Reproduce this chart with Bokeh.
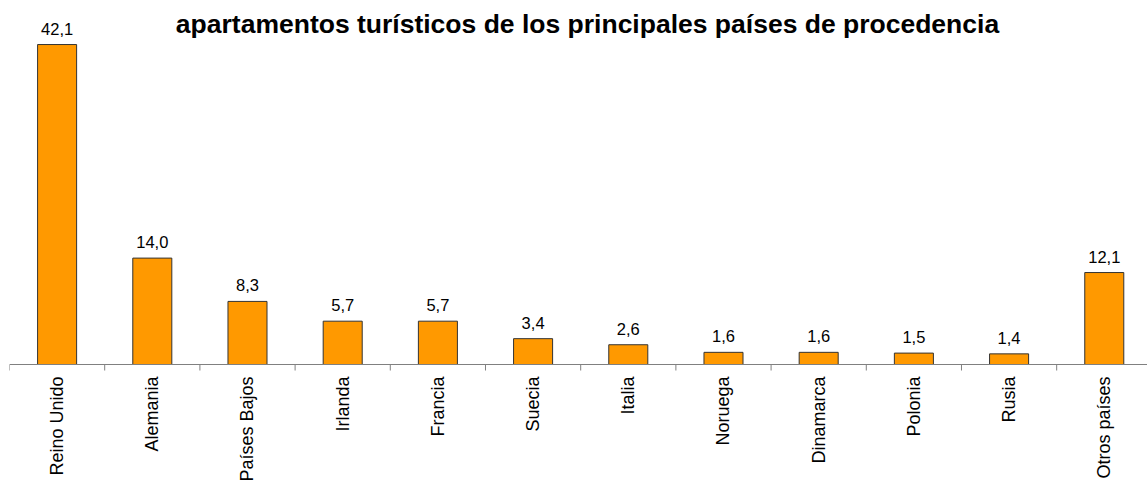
import math
import numpy as np
from bokeh.plotting import figure
from bokeh.models import ColumnDataSource, Range1d, Span, Label
from bokeh.core.properties import value
from bokeh.embed import file_html
from bokeh.resources import INLINE

# ---- data ----
countries = ["Reino Unido", "Alemania", "Países Bajos", "Irlanda", "Francia", "Suecia",
             "Italia", "Noruega", "Dinamarca", "Polonia", "Rusia", "Otros países"]
shares = [42.1, 14.0, 8.3, 5.7, 5.7, 3.4, 2.6, 1.6, 1.6, 1.5, 1.4, 12.1]
share_labels = ["42,1", "14,0", "8,3", "5,7", "5,7", "3,4", "2,6", "1,6", "1,6", "1,5", "1,4", "12,1"]
title_text = "apartamentos turísticos de los principales países de procedencia"

# ---- layout constants (pixels) ----
W, H = 1147, 484
LEFT = 9            # frame left border
AXIS_Y = 364        # pixel row of the category axis
PX_PER_UNIT = 7.6   # vertical scale
TICK_PX = 6

n = len(countries)
centers = (np.arange(n) + 0.5).tolist()
bounds = np.arange(n).tolist()

y_start = -(H - AXIS_Y) / PX_PER_UNIT
y_end = AXIS_Y / PX_PER_UNIT

src = ColumnDataSource(dict(x=centers, top=shares, lab=share_labels, name=countries,
                            zero=[0] * n))
tick_src = ColumnDataSource(dict(x=bounds, y0=[0] * n, y1=[-TICK_PX / PX_PER_UNIT] * n))

FONT = "Liberation Sans"

p = figure(width=W, height=H, output_backend="svg", toolbar_location=None,
           x_range=Range1d(0, n - 0.046), y_range=Range1d(y_start, y_end),
           x_axis_location=None, y_axis_location=None,
           min_border_left=LEFT, min_border_right=0, min_border_top=0, min_border_bottom=0)
p.outline_line_color = None
p.xgrid.visible = False
p.ygrid.visible = False
p.background_fill_color = "white"
p.border_fill_color = "white"

p.vbar(x="x", top="top", width=0.41, bottom=0, source=src,
       fill_color="#FF9900", line_color="#333333", line_width=1)

# axis line and boundary ticks
p.add_layout(Span(location=0, dimension="width", line_color="#808080", line_width=1))
p.segment(x0="x", y0="y0", x1="x", y1="y1", source=tick_src, line_color="#808080", line_width=1)

# value labels
p.text(x="x", y="top", text="lab", source=src, text_align="center",
       text_baseline="alphabetic", y_offset=-16,
       text_font=value(FONT), text_font_size="16.5px", text_color="#000000")

# category labels (rotated, reading bottom to top)
p.text(x="x", y="zero", text="name", source=src, angle=math.pi / 2,
       text_align="right", text_baseline="middle", y_offset=12,
       text_font=value(FONT), text_font_size="18px", text_color="#000000")

p.add_layout(Label(x=578, y=H - 23, x_units="screen", y_units="screen", text=title_text,
                   text_align="center", text_baseline="alphabetic",
                   text_font=FONT, text_font_size="26.5px", text_font_style="bold",
                   text_color="#000000"))

open("out.html", "w").write(file_html(p, INLINE))
